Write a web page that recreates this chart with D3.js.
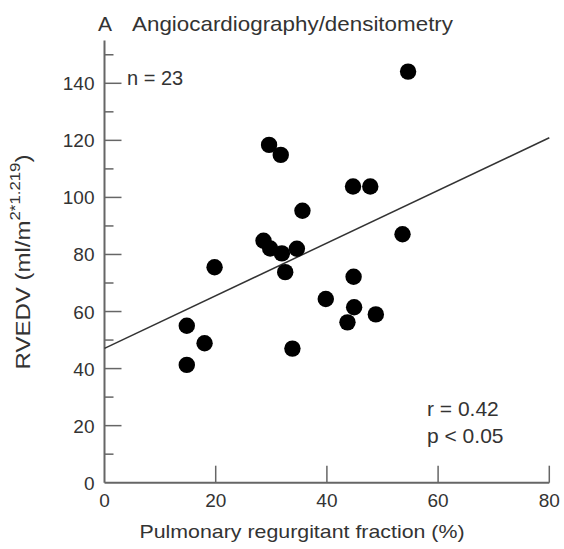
<!DOCTYPE html>
<html>
<head>
<meta charset="utf-8">
<script src="https://cdn.jsdelivr.net/npm/d3@7"></script>
<style>
  html, body { margin: 0; padding: 0; background: #fff; }
  svg { display: block; }
  text { font-family: "Liberation Sans", Arial, sans-serif; fill: #333; }
</style>
</head>
<body>
<div id="chart"></div>
<script>
// Data
const regurgFraction = [54.6, 29.6, 31.7, 44.7, 47.8, 35.6, 53.6, 28.6, 29.8, 31.9, 34.6,
                        19.8, 32.5, 39.8, 14.8, 18.0, 14.8, 33.8, 44.8, 44.9, 43.7, 48.8];
const rvedv          = [144.1, 118.4, 114.9, 103.8, 103.8, 95.3, 87.1, 84.8, 82.1, 80.4, 82.0,
                        75.5, 73.8, 64.4, 55.0, 48.9, 41.3, 47.0, 72.2, 61.5, 56.2, 59.0];
const fitLine = { x: [0, 80], y: [47.1, 120.9] };
const xTicks = [0, 20, 40, 60, 80];
const yMajorTicks = [0, 20, 40, 60, 80, 100, 120, 140];
const yMinorTicks = [10, 30, 50, 70, 90, 110, 130, 150];

const W = 564, H = 549;
const svg = d3.select("#chart").append("svg").attr("width", W).attr("height", H);

const x = d3.scaleLinear().domain([0, 80]).range([104.5, 549.3]);
const y = d3.scaleLinear().domain([0, 140]).range([482.7, 83.3]);

const axisColor = "#666";

// Y axis line
svg.append("line")
  .attr("x1", x(0)).attr("x2", x(0))
  .attr("y1", y(0)).attr("y2", y(155))
  .attr("stroke", axisColor).attr("stroke-width", 2);
// X axis line
svg.append("line")
  .attr("x1", x(0)).attr("x2", x(80))
  .attr("y1", y(0)).attr("y2", y(0))
  .attr("stroke", axisColor).attr("stroke-width", 2);

// Y ticks (inward)
svg.selectAll(".ymaj").data(yMajorTicks.filter(d => d > 0)).enter().append("line")
  .attr("x1", x(0)).attr("x2", x(0) + 17)
  .attr("y1", d => y(d)).attr("y2", d => y(d))
  .attr("stroke", axisColor).attr("stroke-width", 1.5);
svg.selectAll(".ymin").data(yMinorTicks).enter().append("line")
  .attr("x1", x(0)).attr("x2", x(0) + 9)
  .attr("y1", d => y(d)).attr("y2", d => y(d))
  .attr("stroke", axisColor).attr("stroke-width", 1.5);
svg.selectAll(".ylab").data(yMajorTicks).enter().append("text")
  .attr("x", x(0) - 10).attr("y", d => y(d) + 7)
  .attr("text-anchor", "end").attr("font-size", 19)
  .text(d => d);

// X ticks (inward)
svg.selectAll(".xt").data(xTicks.filter(d => d > 0)).enter().append("line")
  .attr("x1", d => x(d)).attr("x2", d => x(d))
  .attr("y1", y(0)).attr("y2", y(0) - 17)
  .attr("stroke", axisColor).attr("stroke-width", 1.5);
svg.selectAll(".xlab").data(xTicks).enter().append("text")
  .attr("x", d => x(d)).attr("y", 507)
  .attr("text-anchor", "middle").attr("font-size", 19)
  .text(d => d);

// Regression line
svg.append("line")
  .attr("x1", x(fitLine.x[0])).attr("y1", y(fitLine.y[0]))
  .attr("x2", x(fitLine.x[1])).attr("y2", y(fitLine.y[1]))
  .attr("stroke", "#333").attr("stroke-width", 1.5);

// Points
svg.selectAll(".pt").data(regurgFraction.map((v, i) => [v, rvedv[i]])).enter().append("circle")
  .attr("cx", d => x(d[0])).attr("cy", d => y(d[1])).attr("r", 8.2)
  .attr("fill", "#000");

// Title
svg.append("text").attr("x", 98).attr("y", 31).attr("font-size", 21).text("A");
svg.append("text").attr("x", 132).attr("y", 31).attr("font-size", 21)
  .attr("textLength", 321).attr("lengthAdjust", "spacingAndGlyphs")
  .text("Angiocardiography/densitometry");

// Annotations
svg.append("text").attr("x", 127).attr("y", 85).attr("font-size", 20).text("n = 23");
svg.append("text").attr("x", 427).attr("y", 416).attr("font-size", 21).text("r = 0.42");
svg.append("text").attr("x", 427).attr("y", 443).attr("font-size", 21).text("p < 0.05");

// X axis title
svg.append("text").attr("x", 302).attr("y", 538).attr("text-anchor", "middle")
  .attr("font-size", 19).attr("textLength", 325).attr("lengthAdjust", "spacingAndGlyphs")
  .text("Pulmonary regurgitant fraction (%)");

// Y axis title
const yt = svg.append("text")
  .attr("transform", "translate(30,262) rotate(-90)")
  .attr("text-anchor", "middle").attr("font-size", 20)
  .attr("textLength", 215).attr("lengthAdjust", "spacingAndGlyphs");
yt.append("tspan").text("RVEDV (ml/m");
yt.append("tspan").attr("font-size", 14).attr("dy", -10).text("2*1.219");
yt.append("tspan").attr("dy", 10).text(")");
</script>
</body>
</html>
